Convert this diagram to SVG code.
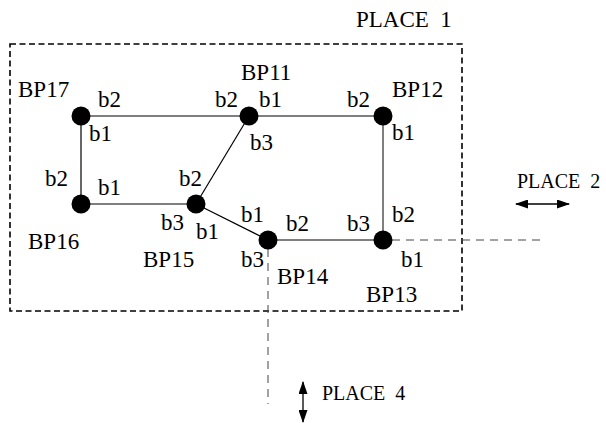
<svg xmlns="http://www.w3.org/2000/svg" width="606" height="423" viewBox="0 0 606 423">
<style>
text{font-family:"Liberation Serif","Times New Roman",serif;fill:#000}
.lbl{font-size:23px}
.pl{font-size:20px}
.node{fill:#000}
.edge{stroke:#000;stroke-width:1.2;fill:none}
.edge2{stroke:#555;stroke-width:1.5;fill:none}
.box{stroke:#000;stroke-width:1.6;fill:none;stroke-dasharray:6 3.5}
.thin{stroke:#444;stroke-width:1;fill:none;stroke-dasharray:8 6}
.arr{stroke:#000;stroke-width:1.3;fill:none}
</style>
<defs>
<marker id="ah" markerWidth="13" markerHeight="9" refX="12" refY="4.5" orient="auto-start-reverse" markerUnits="userSpaceOnUse">
<path d="M0,0 L13,4.5 L0,9 Z" fill="#000"/>
</marker>
</defs>
<g id="place1">
<rect class="box" x="10" y="44" width="452" height="267"/>
<text class="lbl" x="356" y="27" xml:space="preserve">PLACE  1</text>
</g>
<g id="connectors">
<line class="edge" x1="81" y1="116" x2="249" y2="116"/>
<line class="edge" x1="249" y1="116" x2="383" y2="116"/>
<line class="edge" x1="81" y1="116" x2="81" y2="204"/>
<line class="edge" x1="81" y1="204" x2="196" y2="204"/>
<line class="edge" x1="196" y1="204" x2="249" y2="116"/>
<line class="edge" x1="196" y1="204" x2="268" y2="240"/>
<line class="edge2" x1="268" y1="240" x2="383" y2="240"/>
<line class="edge2" x1="383" y1="116" x2="383" y2="240"/>
<line class="thin" x1="392" y1="240" x2="543" y2="240"/>
<line class="thin" x1="268" y1="249" x2="268" y2="404"/>
</g>
<g id="BP17">
<circle class="node" cx="81" cy="116" r="9.5"/>
<text class="lbl" x="18" y="97">BP17</text>
<text class="lbl" x="98" y="107">b2</text>
<text class="lbl" x="89" y="141">b1</text>
</g>
<g id="BP11">
<circle class="node" cx="249" cy="116" r="9.5"/>
<text class="lbl" x="241" y="80">BP11</text>
<text class="lbl" x="215" y="107">b2</text>
<text class="lbl" x="259" y="107">b1</text>
<text class="lbl" x="250" y="150">b3</text>
</g>
<g id="BP12">
<circle class="node" cx="383" cy="116" r="9.5"/>
<text class="lbl" x="392" y="97">BP12</text>
<text class="lbl" x="347" y="107">b2</text>
<text class="lbl" x="392" y="140">b1</text>
</g>
<g id="BP16">
<circle class="node" cx="81" cy="204" r="9.5"/>
<text class="lbl" x="28" y="249">BP16</text>
<text class="lbl" x="45" y="186">b2</text>
<text class="lbl" x="98" y="195">b1</text>
</g>
<g id="BP15">
<circle class="node" cx="196" cy="204" r="9.5"/>
<text class="lbl" x="143" y="267">BP15</text>
<text class="lbl" x="179" y="186">b2</text>
<text class="lbl" x="161" y="230">b3</text>
<text class="lbl" x="196" y="239">b1</text>
</g>
<g id="BP14">
<circle class="node" cx="268" cy="240" r="9.5"/>
<text class="lbl" x="277" y="284">BP14</text>
<text class="lbl" x="241" y="222">b1</text>
<text class="lbl" x="286" y="231">b2</text>
<text class="lbl" x="241" y="267">b3</text>
</g>
<g id="BP13">
<circle class="node" cx="383" cy="240" r="9.5"/>
<text class="lbl" x="366" y="302">BP13</text>
<text class="lbl" x="347" y="231">b3</text>
<text class="lbl" x="392" y="222">b2</text>
<text class="lbl" x="401" y="267">b1</text>
</g>
<g id="place2">
<text class="pl" x="517" y="188" xml:space="preserve">PLACE  2</text>
<line class="arr" x1="516" y1="204" x2="569" y2="204" marker-start="url(#ah)" marker-end="url(#ah)"/>
</g>
<g id="place4">
<text class="pl" x="322" y="400" xml:space="preserve">PLACE  4</text>
<line class="arr" x1="303" y1="382" x2="303" y2="422" marker-start="url(#ah)" marker-end="url(#ah)"/>
</g>
</svg>
